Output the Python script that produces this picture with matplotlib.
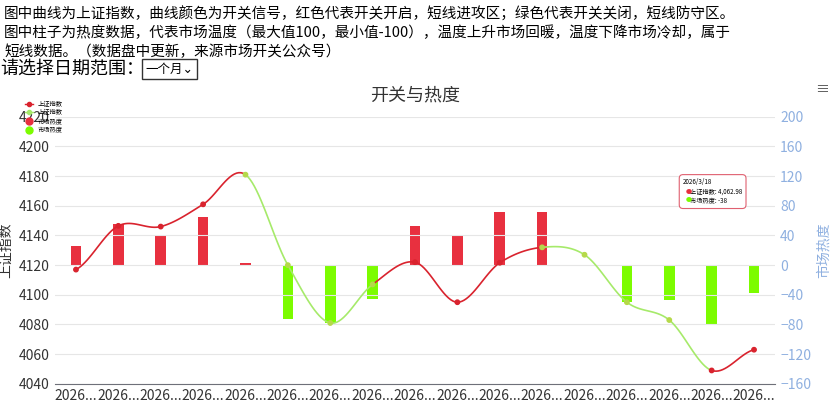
import matplotlib
matplotlib.use("Agg")
import matplotlib.pyplot as plt
import numpy as np
from matplotlib.lines import Line2D

plt.rcParams['font.family'] = ['Noto Sans CJK SC', 'DejaVu Sans']

labels = ["2026..."] * 17
index_vals = [4117, 4146.5, 4146, 4161, 4181, 4120, 4081, 4107, 4122, 4095, 4121.6, 4132, 4127, 4095, 4083, 4049, 4062.98]
heat_vals = [26, 55, 40, 65, 3, -72, -78, -45, 53, 39, 72, 72, -1, -50, -47, -80, -38]
point_on = [1, 1, 1, 1, 0, 0, 0, 0, 1, 1, 1, 0, 0, 0, 0, 1, 1]
seg_on = [1, 1, 1, 1, 0, 0, 0, 1, 1, 1, 1, 0, 0, 0, 0, 1]

RED = "#e8303f"
GREEN = "#7cfc00"
LGREEN = "#a6ea6a"
LINERED = "#d9232e"
BLUE = "#8fb0e0"

fig = plt.figure(figsize=(8.3, 4.07), dpi=100)
fig.text(0.005, 0.985, "图中曲线为上证指数，曲线颜色为开关信号，红色代表开关开启，短线进攻区；绿色代表开关关闭，短线防守区。", fontsize=10.5, va="top")
fig.text(0.005, 0.938, "图中柱子为热度数据，代表市场温度（最大值100，最小值-100），温度上升市场回暖，温度下降市场冷却，属于", fontsize=10.5, va="top")
fig.text(0.005, 0.891, "短线数据。（数据盘中更新，来源市场开关公众号）", fontsize=10.5, va="top")
fig.text(0.0, 0.83, "请选择日期范围：", fontsize=13, va="center")
fig.text(0.175, 0.83, "一个月⌄", fontsize=9, va="center",
         bbox=dict(boxstyle="square,pad=0.3", fc="white", ec="#333333", lw=1))
fig.text(0.5, 0.765, "开关与热度", fontsize=13, ha="center", va="center", color="#333333")
fig.text(0.99, 0.78, "≡", fontsize=10, ha="center", va="center", color="#555555")

ax = fig.add_axes([0.066, 0.057, 0.868, 0.656])
ax2 = ax.twinx()
x = np.arange(len(index_vals))

bar_colors = [RED if h >= 0 else GREEN for h in heat_vals]
ax2.bar(x, heat_vals, width=0.25, color=bar_colors, zorder=1)
ax2.set_ylim(-160, 200)
ax2.set_yticks(range(-160, 201, 40))
ax2.tick_params(axis='y', colors=BLUE, length=0, labelsize=10)
ax2.set_ylabel("市场热度", color=BLUE, fontsize=10)

def seg_curve(i, n=20):
    p0 = index_vals[max(i - 1, 0)]
    p1 = index_vals[i]
    p2 = index_vals[i + 1]
    p3 = index_vals[min(i + 2, len(index_vals) - 1)]
    t = np.linspace(0, 1, n)
    y = 0.5 * ((2 * p1) + (-p0 + p2) * t + (2 * p0 - 5 * p1 + 4 * p2 - p3) * t**2 + (-p0 + 3 * p1 - 3 * p2 + p3) * t**3)
    return i + t, y

ax.set_zorder(ax2.get_zorder() + 1)
ax.patch.set_visible(False)
for i in range(len(index_vals) - 1):
    xs, ys = seg_curve(i)
    ax.plot(xs, ys, color=LINERED if seg_on[i] else LGREEN, lw=1.2, zorder=3)
ax.scatter(x, index_vals, s=10, c=[LINERED if p else "#b5d94a" for p in point_on], zorder=4)
ax.set_ylim(4040, 4220)
ax.set_yticks(range(4040, 4221, 20))
ax.set_xlim(-0.5, len(x) - 0.5)
ax.set_xticks(x)
ax.set_xticklabels(labels, fontsize=10, color="#333333")
ax.tick_params(axis='y', length=0, labelsize=10, colors="#333333")
ax.tick_params(axis='x', length=0)
ax.set_ylabel("上证指数", fontsize=10, color="#333333")
ax.grid(axis='y', color="#e6e6e6", lw=0.8)
for a in (ax, ax2):
    for s in a.spines.values():
        s.set_visible(False)
ax.spines['bottom'].set_visible(True)
ax.spines['bottom'].set_color("#6e7079")

handles = [Line2D([], [], color=LINERED, marker='o', ms=3, lw=1),
           Line2D([], [], color=LGREEN, marker='o', ms=3, lw=1),
           Line2D([], [], color=RED, marker='o', ms=5, lw=0),
           Line2D([], [], color=GREEN, marker='o', ms=5, lw=0)]
ax.legend(handles, ["上证指数", "上证指数", "市场热度", "市场热度"], loc="upper left",
          bbox_to_anchor=(-0.045, 1.075), fontsize=4.5, frameon=False, handlelength=1.2,
          labelspacing=0.1, borderpad=0)

# tooltip
tx, ty = 0.872, 0.72
ax.text(tx, ty, "2026/3/18\n     上证指数: 4,062.98\n     市场热度: -38", transform=ax.transAxes,
        fontsize=4.5, va="center", ha="left",
        bbox=dict(boxstyle="round,pad=0.6", fc="white", ec="#e06070", lw=0.8))
ax.text(tx + 0.004, ty, "●", color=RED, transform=ax.transAxes, fontsize=4.5, va="center", zorder=10)
ax.text(tx + 0.004, ty - 0.033, "●", color=GREEN, transform=ax.transAxes, fontsize=4.5, va="center", zorder=10)

fig.savefig("out.png", dpi=100)
